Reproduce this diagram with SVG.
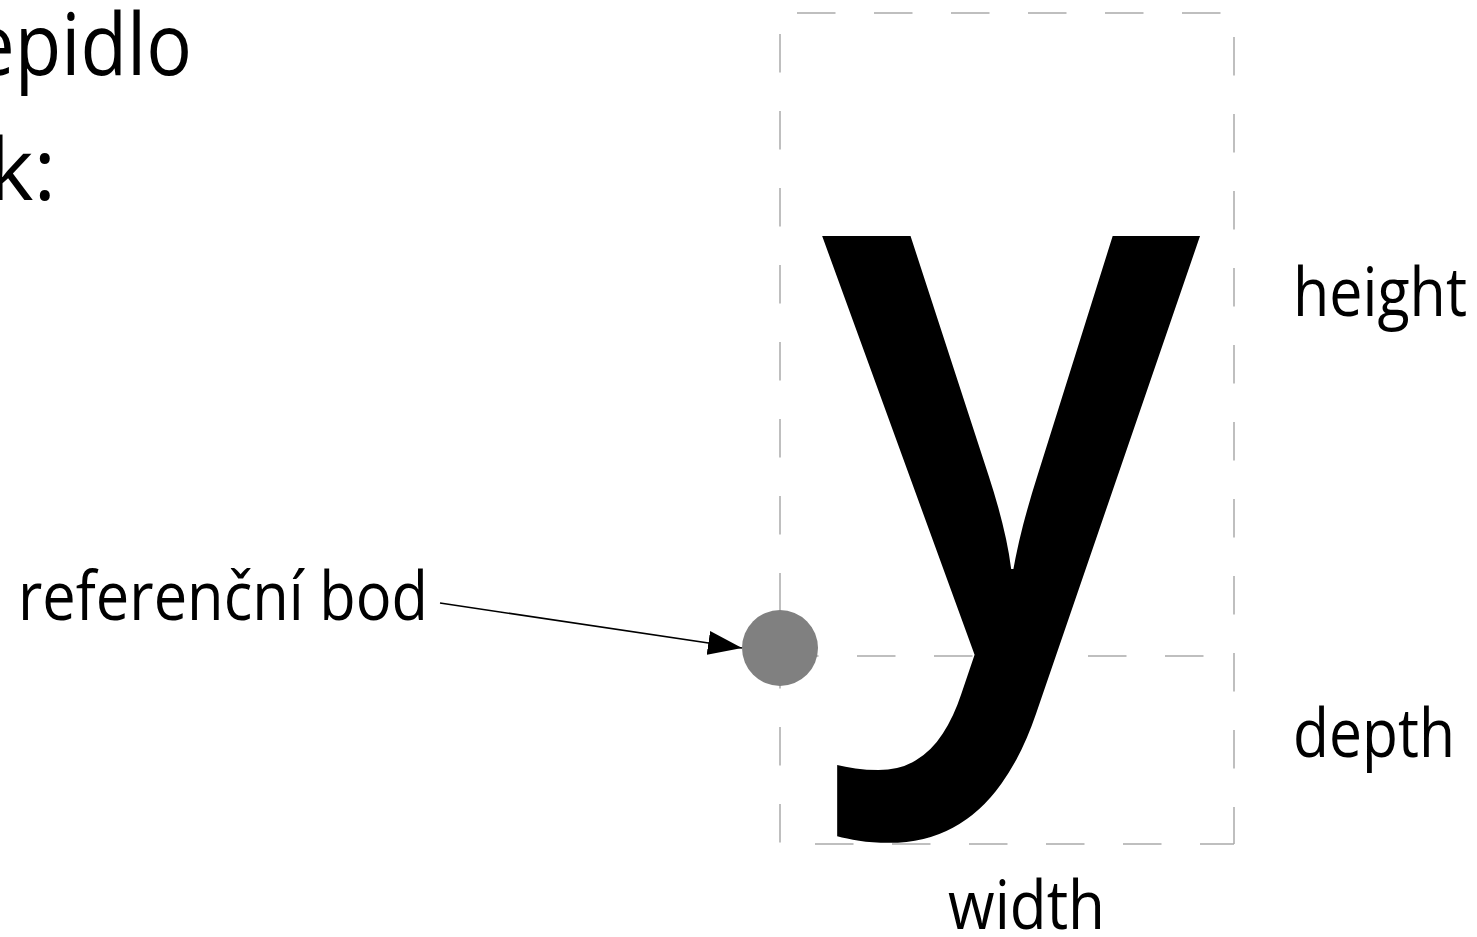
<svg xmlns="http://www.w3.org/2000/svg" width="1477" height="937" viewBox="0 0 1477 937">
<style>
.lbl{font-family:"Open Sans","Noto Sans",sans-serif;fill:#000;}
.dash{stroke:#aaaaaa;stroke-width:1.5;stroke-dasharray:38.5 38.5;fill:none;}
</style>
<defs>
<marker id="ah" markerWidth="34" markerHeight="24" refX="34" refY="12" orient="auto" markerUnits="userSpaceOnUse">
<path d="M0,0 L34,12 L0,24 Z" fill="#000"/>
</marker>
</defs>
<rect width="1477" height="937" fill="#fff"/>
<g id="title">
<text class="lbl" x="-28" y="75" font-size="86" textLength="220" lengthAdjust="spacingAndGlyphs">epidlo</text>
<text class="lbl" x="56" y="200" font-size="86" text-anchor="end">k:</text>
</g>
<g id="box">
<line class="dash" x1="797" y1="13" x2="1234" y2="13"/>
<line class="dash" x1="780" y1="34" x2="780" y2="844"/>
<line class="dash" x1="1234" y1="37" x2="1234" y2="844"/>
<line class="dash" x1="780" y1="656" x2="1234" y2="656"/>
<line class="dash" x1="815" y1="844" x2="1234" y2="844"/>
</g>
<g id="glyph">
<text class="lbl" transform="translate(1011,656) scale(0.91,1)" x="0" y="0" font-size="777" font-weight="600" text-anchor="middle">y</text>
</g>
<g id="refpoint">
<circle cx="780" cy="648" r="38" fill="#808080"/>
</g>
<g id="labels">
<text class="lbl" x="18" y="620" font-size="68" textLength="410" lengthAdjust="spacingAndGlyphs">referenční bod</text>
<text class="lbl" x="1293" y="316" font-size="68" textLength="174" lengthAdjust="spacingAndGlyphs">height</text>
<text class="lbl" x="1293" y="757" font-size="68" textLength="162" lengthAdjust="spacingAndGlyphs">depth</text>
<text class="lbl" x="948" y="929" font-size="68" textLength="157" lengthAdjust="spacingAndGlyphs">width</text>
</g>
<g id="connectors">
<line x1="440" y1="603" x2="742" y2="648" stroke="#000" stroke-width="1.5" marker-end="url(#ah)"/>
</g>
</svg>
